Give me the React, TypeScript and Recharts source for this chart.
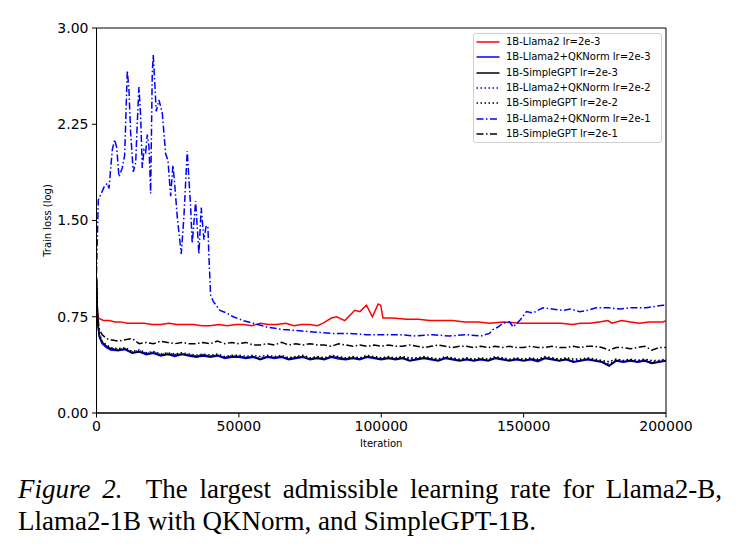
import React from 'react';
import { LineChart, Line, XAxis, YAxis, Legend, ReferenceArea } from 'recharts';

// Shared iteration grid for the low, noisy curves
const gridIters = [
  0, 400, 1000, 2000, 3500, 5000, 7500, 10000, 12500, 15000,
  17500, 20000, 22500, 25000, 27500, 30000, 32500, 35000, 37500, 40000,
  42500, 45000, 47500, 50000, 52500, 55000, 57500, 60000, 62500, 65000,
  67500, 70000, 72500, 75000, 77500, 80000, 82500, 85000, 87500, 90000,
  92500, 95000, 97500, 100000, 102500, 105000, 107500, 110000, 112500, 115000,
  117500, 120000, 122500, 125000, 127500, 130000, 132500, 135000, 137500, 140000,
  142500, 145000, 147500, 150000, 152500, 155000, 157500, 160000, 162500, 165000,
  167500, 170000, 172500, 175000, 177500, 180000, 182500, 185000, 187500, 190000,
  192500, 195000, 197500, 200000,
];

// 1B-Llama2 lr=2e-3
const llamaIters = [
  0, 300, 700, 1500, 2600, 4500, 6500, 8500, 10800, 13500,
  16700, 19500, 22500, 25500, 28250, 31000, 34200, 37000, 39800, 43000,
  45900, 49000, 51800, 54500, 57600, 60500, 63300, 66500, 69300, 72000,
  74900, 77500, 79600, 81000, 82500, 84300, 87200, 90700, 92500, 94800,
  96900, 98900, 99800, 100600, 104000, 108900, 113000, 117000, 120500, 125000,
  129300, 134000, 138100, 143000, 148600, 153000, 158000, 163000, 167200, 170000,
  173200, 176500, 179600, 181000, 184400, 187500, 190700, 194000, 196500, 198900,
  200000,
];
const llamaLr2e3 = [
  0.98, 0.80, 0.74, 0.73, 0.72, 0.72, 0.71, 0.71, 0.70, 0.70,
  0.70, 0.69, 0.69, 0.70, 0.69, 0.69, 0.69, 0.68, 0.68, 0.69,
  0.68, 0.69, 0.69, 0.68, 0.70, 0.69, 0.69, 0.70, 0.68, 0.69,
  0.69, 0.68, 0.70, 0.72, 0.74, 0.75, 0.72, 0.80, 0.79, 0.84,
  0.75, 0.85, 0.84, 0.74, 0.74, 0.73, 0.73, 0.72, 0.72, 0.72,
  0.71, 0.71, 0.70, 0.71, 0.70, 0.70, 0.70, 0.70, 0.69, 0.70,
  0.70, 0.71, 0.72, 0.70, 0.72, 0.71, 0.70, 0.71, 0.71, 0.71,
  0.72,
];

// 1B-Llama2+QKNorm lr=2e-3
const qkLr2e3 = [
  1.02, 0.70, 0.59, 0.54, 0.51, 0.49, 0.485, 0.495, 0.465, 0.475,
  0.455, 0.465, 0.445, 0.455, 0.44, 0.455, 0.445, 0.435, 0.445, 0.435,
  0.445, 0.425, 0.435, 0.435, 0.425, 0.435, 0.415, 0.435, 0.425, 0.435,
  0.415, 0.425, 0.435, 0.415, 0.425, 0.415, 0.435, 0.42, 0.415, 0.425,
  0.415, 0.435, 0.425, 0.415, 0.425, 0.415, 0.425, 0.405, 0.415, 0.425,
  0.415, 0.405, 0.425, 0.415, 0.405, 0.415, 0.405, 0.415, 0.405, 0.425,
  0.415, 0.405, 0.415, 0.405, 0.415, 0.40, 0.425, 0.415, 0.405, 0.415,
  0.395, 0.405, 0.415, 0.405, 0.395, 0.365, 0.405, 0.395, 0.405, 0.395,
  0.405, 0.385, 0.395, 0.405,
];

// 1B-SimpleGPT lr=2e-3
const sgptLr2e3 = [
  1.05, 0.72, 0.60, 0.55, 0.52, 0.50, 0.49, 0.50, 0.47, 0.48,
  0.46, 0.47, 0.45, 0.46, 0.45, 0.46, 0.45, 0.44, 0.45, 0.44,
  0.45, 0.43, 0.44, 0.44, 0.43, 0.44, 0.42, 0.44, 0.43, 0.44,
  0.42, 0.43, 0.44, 0.42, 0.43, 0.42, 0.44, 0.43, 0.42, 0.43,
  0.42, 0.44, 0.43, 0.42, 0.43, 0.42, 0.43, 0.41, 0.42, 0.43,
  0.42, 0.41, 0.43, 0.42, 0.41, 0.42, 0.41, 0.42, 0.41, 0.43,
  0.42, 0.41, 0.42, 0.41, 0.42, 0.41, 0.43, 0.42, 0.41, 0.42,
  0.40, 0.41, 0.42, 0.41, 0.40, 0.37, 0.41, 0.40, 0.41, 0.40,
  0.41, 0.39, 0.40, 0.41,
];

// 1B-Llama2+QKNorm lr=2e-2
const qkLr2e2 = [
  1.04, 0.71, 0.61, 0.55, 0.52, 0.505, 0.495, 0.50, 0.475, 0.485,
  0.465, 0.475, 0.455, 0.465, 0.455, 0.46, 0.455, 0.445, 0.455, 0.445,
  0.45, 0.435, 0.445, 0.44, 0.435, 0.44, 0.43, 0.44, 0.435, 0.44,
  0.425, 0.435, 0.44, 0.425, 0.435, 0.425, 0.44, 0.435, 0.425, 0.435,
  0.425, 0.44, 0.435, 0.425, 0.435, 0.425, 0.435, 0.42, 0.425, 0.435,
  0.425, 0.415, 0.43, 0.425, 0.415, 0.425, 0.415, 0.425, 0.415, 0.43,
  0.425, 0.415, 0.425, 0.415, 0.425, 0.415, 0.43, 0.425, 0.415, 0.425,
  0.41, 0.415, 0.425, 0.415, 0.405, 0.385, 0.415, 0.405, 0.415, 0.405,
  0.415, 0.40, 0.405, 0.415,
];

// 1B-SimpleGPT lr=2e-2
const sgptLr2e2 = [
  1.06, 0.74, 0.62, 0.56, 0.53, 0.51, 0.50, 0.51, 0.48, 0.49,
  0.47, 0.48, 0.46, 0.47, 0.46, 0.47, 0.46, 0.45, 0.46, 0.45,
  0.46, 0.44, 0.45, 0.45, 0.44, 0.45, 0.44, 0.45, 0.44, 0.45,
  0.43, 0.44, 0.45, 0.43, 0.44, 0.43, 0.45, 0.44, 0.43, 0.44,
  0.43, 0.45, 0.44, 0.43, 0.44, 0.43, 0.44, 0.43, 0.43, 0.44,
  0.43, 0.42, 0.44, 0.43, 0.42, 0.43, 0.42, 0.43, 0.42, 0.44,
  0.43, 0.42, 0.43, 0.42, 0.43, 0.42, 0.44, 0.43, 0.42, 0.43,
  0.42, 0.42, 0.43, 0.42, 0.41, 0.40, 0.42, 0.41, 0.42, 0.41,
  0.42, 0.41, 0.41, 0.42,
];

// 1B-Llama2+QKNorm lr=2e-1
const qkHighIters = [
  0, 630, 1470, 2630, 3790, 4390, 5540, 6390, 7090, 7900,
  9050, 9900, 10810, 11400, 12000, 12910, 13760, 14320, 14910, 15510,
  16070, 16670, 17260, 17830, 18420, 19020, 19580, 19930, 20420, 20980,
  21930, 23090, 24280, 25090, 26040, 26840, 27440, 28350, 29760, 30700,
  31860, 33050, 33620, 34810, 35970, 36770, 37720, 38530, 39130, 39480,
  40070, 41000, 43340, 45690, 48000, 51510, 55020, 59720, 65550, 71410,
  77270, 83100, 89000, 94800, 100600, 106500, 112000, 118000, 124000, 130000,
  135000, 138000, 139200, 141000, 142700, 145100, 146300, 148600, 151000, 153300,
  156800, 160000, 163800, 166500, 169700, 172500, 175500, 180000, 184000, 187200,
  190000, 193100, 196000, 198900, 200000,
];
const qkLr2e1 = [
  1.09, 1.66, 1.70, 1.76, 1.79, 1.75, 2.05, 2.13, 2.07, 1.84,
  1.91, 2.01, 2.67, 2.52, 2.18, 1.88, 1.95, 2.26, 2.54, 2.31,
  1.91, 2.05, 2.03, 2.17, 2.08, 1.71, 2.65, 2.79, 2.59, 2.35,
  2.44, 2.34, 2.02, 1.97, 1.69, 1.93, 1.79, 1.53, 1.24, 1.53,
  2.04, 1.61, 1.32, 1.65, 1.24, 1.60, 1.35, 1.46, 1.45, 1.22,
  0.92, 0.87, 0.80, 0.78, 0.75, 0.72, 0.70, 0.67, 0.65, 0.64,
  0.63, 0.62, 0.62, 0.61, 0.61, 0.61, 0.60, 0.61, 0.60, 0.61,
  0.60, 0.62, 0.65, 0.67, 0.70, 0.71, 0.67, 0.72, 0.79, 0.78,
  0.82, 0.81, 0.80, 0.81, 0.79, 0.80, 0.82, 0.82, 0.81, 0.82,
  0.82, 0.82, 0.83, 0.84, 0.84,
];

// 1B-SimpleGPT lr=2e-1
const sgptLr2e1 = [
  1.05, 0.75, 0.65, 0.61, 0.58, 0.57, 0.56, 0.57, 0.58, 0.54,
  0.55, 0.54, 0.56, 0.55, 0.54, 0.55, 0.54, 0.54, 0.55, 0.54,
  0.56, 0.54, 0.55, 0.54, 0.55, 0.53, 0.53, 0.54, 0.53, 0.55,
  0.53, 0.54, 0.53, 0.54, 0.53, 0.53, 0.52, 0.54, 0.53, 0.52,
  0.53, 0.52, 0.53, 0.52, 0.53, 0.52, 0.52, 0.53, 0.52, 0.51,
  0.52, 0.53, 0.52, 0.51, 0.52, 0.52, 0.51, 0.52, 0.51, 0.52,
  0.51, 0.52, 0.51, 0.51, 0.52, 0.51, 0.51, 0.52, 0.51, 0.51,
  0.52, 0.51, 0.52, 0.52, 0.51, 0.49, 0.51, 0.51, 0.50, 0.51,
  0.52, 0.49, 0.51, 0.51,
];

const xTicks = [0, 50000, 100000, 150000, 200000];
const yTicks = [0, 0.75, 1.5, 2.25, 3];

const toPts = (xs: number[], ys: number[]) => xs.map((x, i) => ({ x, y: ys[i] }));

const DOT = '1.5 2.5';
const DASHDOT = '7 2.5 1.5 2.5';

const series = [
  { name: '1B-Llama2 lr=2e-3', color: '#ff0000', dash: undefined as string | undefined, data: toPts(llamaIters, llamaLr2e3) },
  { name: '1B-Llama2+QKNorm lr=2e-3', color: '#0000ff', dash: undefined, data: toPts(gridIters, qkLr2e3) },
  { name: '1B-SimpleGPT lr=2e-3', color: '#000000', dash: undefined, data: toPts(gridIters, sgptLr2e3) },
  { name: '1B-Llama2+QKNorm lr=2e-2', color: '#0000ff', dash: DOT, data: toPts(gridIters, qkLr2e2) },
  { name: '1B-SimpleGPT lr=2e-2', color: '#000000', dash: DOT, data: toPts(gridIters, sgptLr2e2) },
  { name: '1B-Llama2+QKNorm lr=2e-1', color: '#0000ff', dash: DASHDOT, data: toPts(qkHighIters, qkLr2e1) },
  { name: '1B-SimpleGPT lr=2e-1', color: '#000000', dash: DASHDOT, data: toPts(gridIters, sgptLr2e1) },
];

const FONT = "'DejaVu Sans', sans-serif";

const renderLegend = () => (
  <div
    style={{
      boxSizing: 'border-box',
      width: 189,
      height: 110,
      border: '1px solid #d0d0d0',
      borderRadius: 3,
      background: 'rgba(255,255,255,0.85)',
      paddingTop: 0.5,
      fontFamily: FONT,
      fontSize: 10,
      color: '#000',
    }}
  >
    {series.map((s) => (
      <div key={s.name} style={{ display: 'flex', alignItems: 'center', height: 15.3 }}>
        <svg width={32} height={6} style={{ display: 'block', flex: 'none' }}>
          <line x1={2.5} y1={3} x2={25.5} y2={3} stroke={s.color} strokeWidth={1.5} strokeDasharray={s.dash} />
        </svg>
        <span style={{ whiteSpace: 'nowrap', lineHeight: '12px' }}>{s.name}</span>
      </div>
    ))}
  </div>
);

export default function App() {
  return (
    <div style={{ position: 'absolute', left: 0, top: 0, width: 738, height: 551, background: '#fff' }}>
      <LineChart width={738} height={460} margin={{ top: 28, right: 72, bottom: 0, left: 0 }}>
        <XAxis
          type="number"
          dataKey="x"
          domain={[0, 200000]}
          ticks={xTicks}
          allowDataOverflow
          stroke="#000"
          tickSize={4.5}
          tickMargin={3.5}
          height={47}
          tick={{ fill: '#000', fontSize: 14, fontFamily: FONT }}
          tickLine={{ stroke: '#000' }}
          label={{ value: 'Iteration', position: 'center', dy: 7, style: { fontSize: 10, fontFamily: FONT, fill: '#000' } }}
        />
        <YAxis
          type="number"
          domain={[0, 3]}
          ticks={yTicks}
          allowDataOverflow
          width={96.5}
          stroke="#000"
          tickSize={4.5}
          tickMargin={3.5}
          tickFormatter={(v: number) => v.toFixed(2)}
          tick={{ fill: '#000', fontSize: 14, fontFamily: FONT }}
          tickLine={{ stroke: '#000' }}
          label={{ value: 'Train loss (log)', angle: -90, position: 'center', dx: -1, style: { fontSize: 10, fontFamily: FONT, fill: '#000' } }}
        />
        <ReferenceArea x1={0} x2={200000} y1={0} y2={3} fill="none" stroke="#000" strokeWidth={1} ifOverflow="visible" />
        {series.map((s) => (
          <Line
            key={s.name}
            data={s.data}
            dataKey="y"
            name={s.name}
            type="linear"
            stroke={s.color}
            strokeWidth={1.5}
            strokeDasharray={s.dash}
            dot={false}
            activeDot={false}
            isAnimationActive={false}
          />
        ))}
        <Legend
          content={renderLegend}
          layout="horizontal"
          verticalAlign="middle"
          align="center"
          wrapperStyle={{ left: 473, top: 33, width: 189, height: 110 }}
        />
      </LineChart>
      <div
        style={{
          position: 'absolute',
          left: 18,
          top: 473,
          width: 704,
          fontFamily: "'Liberation Serif', 'Times New Roman', serif",
          fontSize: 27,
          lineHeight: '32px',
          color: '#000',
        }}
      >
        <div style={{ textAlign: 'justify', textAlignLast: 'justify', whiteSpace: 'nowrap' }}>
          <i>Figure 2.</i>{'\u00a0 The largest admissible learning rate for Llama2-B,'}
        </div>
        <div style={{ whiteSpace: 'nowrap' }}>Llama2-1B with QKNorm, and SimpleGPT-1B.</div>
      </div>
    </div>
  );
}
